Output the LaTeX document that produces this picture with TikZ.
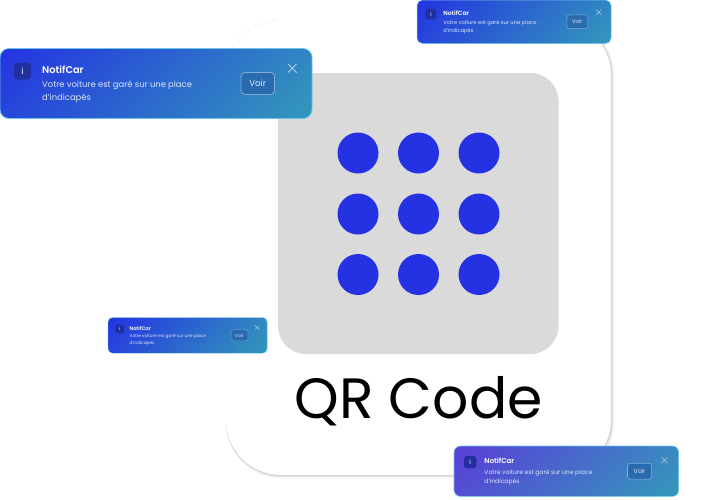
\documentclass[tikz,border=0pt]{standalone}
\usepackage{fontspec}
\setmainfont{Poppins}
\newfontfamily\popsemi{Poppins SemiBold}
\definecolor{dotblue}{HTML}{2532E3}
\definecolor{panel}{HTML}{DADADA}
\definecolor{endteal}{HTML}{3399BA}
\definecolor{startblue}{HTML}{2433E2}
\definecolor{startviolet}{HTML}{5A3DD8}
\definecolor{rimblue}{HTML}{6CC4EA}
\definecolor{iconbg}{HTML}{22309F}
\definecolor{btnfill}{HTML}{2A6BB0}
\definecolor{msg}{HTML}{DCE6F8}
\tikzset{
  bigdot/.style={fill=dotblue,draw=none},
  qrlabel/.style={font=\fontsize{56.8}{57}\selectfont,text=black,inner sep=0pt,anchor=base},
}
% #1 name, #2 x, #3 y, #4 scale, #5 start colour
\newcommand{\notifcard}[5]{%
  \pgfmathsetmacro{\scl}{#4}%
  \pgfmathsetmacro{\fsA}{\scl*8.6}%
  \pgfmathsetmacro{\fsB}{\scl*9.8}%
  \pgfmathsetmacro{\fsBl}{\scl*12}%
  \pgfmathsetmacro{\fsC}{\scl*8.4}%
  \pgfmathsetmacro{\fsCl}{\scl*13}%
  \pgfmathsetmacro{\cxx}{#2+156*\scl}%
  \pgfmathsetmacro{\cyy}{#3+35*\scl}%
  \begin{scope}[shift={(#2,#3)},x=\scl pt,y=-\scl pt]
    \begin{scope}
      \clip[rounded corners=\scl*9pt] (0,0) rectangle (312,70);
      \begin{scope}[transform canvas={rotate around={-45:(\cxx pt,-\cyy pt)}}]
        \path[left color=#5,right color=endteal] (21,-110) rectangle (291,180);
      \end{scope}
    \end{scope}
    \path[draw=rimblue,line width=\scl*0.8pt,rounded corners=\scl*9pt] (0,0) rectangle (312,70);
    \path[fill=iconbg,rounded corners=\scl*3.5pt] (14,14) rectangle (31,31);
    \node[inner sep=0pt,text=white,font=\fontsize{\fsA}{\fsA}\selectfont] (#1i) at (22.5,22.5) {i};
    \node[anchor=base west,inner sep=0pt,text=white,font=\fontsize{\fsB}{\fsBl}\popsemi] (#1t) at (42,24.5) {NotifCar};
    \node[anchor=north west,inner sep=0pt,align=left,text=msg,font=\fontsize{\fsC}{\fsCl}\selectfont] (#1m) at (42,32.3) {Votre voiture est garé sur une place\\d'indicapés};
    \path[fill=btnfill,draw=white,draw opacity=.4,line width=\scl*0.8pt,rounded corners=\scl*4pt] (241,24) rectangle (274.5,46);
    \node[inner sep=0pt,text=msg,font=\fontsize{\fsA}{\fsA}\selectfont] (#1b) at (257.7,35) {Voir};
    \draw[white,opacity=.6,line width=\scl*0.8pt] (288,15.5) -- (296.5,24) (296.5,15.5) -- (288,24);
  \end{scope}}
\begin{document}
\begin{tikzpicture}[x=1pt,y=-1pt]
  \useasboundingbox (0,0) rectangle (708,499);
  \fill[white] (0,0) rectangle (708,499);
  % card shadow
  \foreach \e/\o in {3.5/.02,2.6/.035,1.8/.05,1/.06,.4/.06}{
    \fill[black,opacity=\o,rounded corners=55pt] (226,20) rectangle (611+\e,475+\e);
  }
  \fill[white,rounded corners=55pt] (226,20) rectangle (611,475);
  \fill[panel,rounded corners=28pt] (278,73) rectangle (558.5,354);
  \foreach \i/\cx in {a/358,b/418.5,c/479}{
    \foreach \j/\cy in {1/153,2/214,3/274.5}{
      \node[bigdot,circle,minimum size=41pt,inner sep=0pt] (d\i\j) at (\cx,\cy) {};
    }
  }
  \node[qrlabel] (qr) at (418.5,418) {QR Code};
  \notifcard{big}{0}{48.5}{1}{startblue}
  \notifcard{top}{417}{0}{0.622}{startblue}
  \notifcard{low}{108}{317.5}{0.51}{startblue}
  \notifcard{bot}{454}{446}{0.72}{startviolet}
\end{tikzpicture}
\end{document}
